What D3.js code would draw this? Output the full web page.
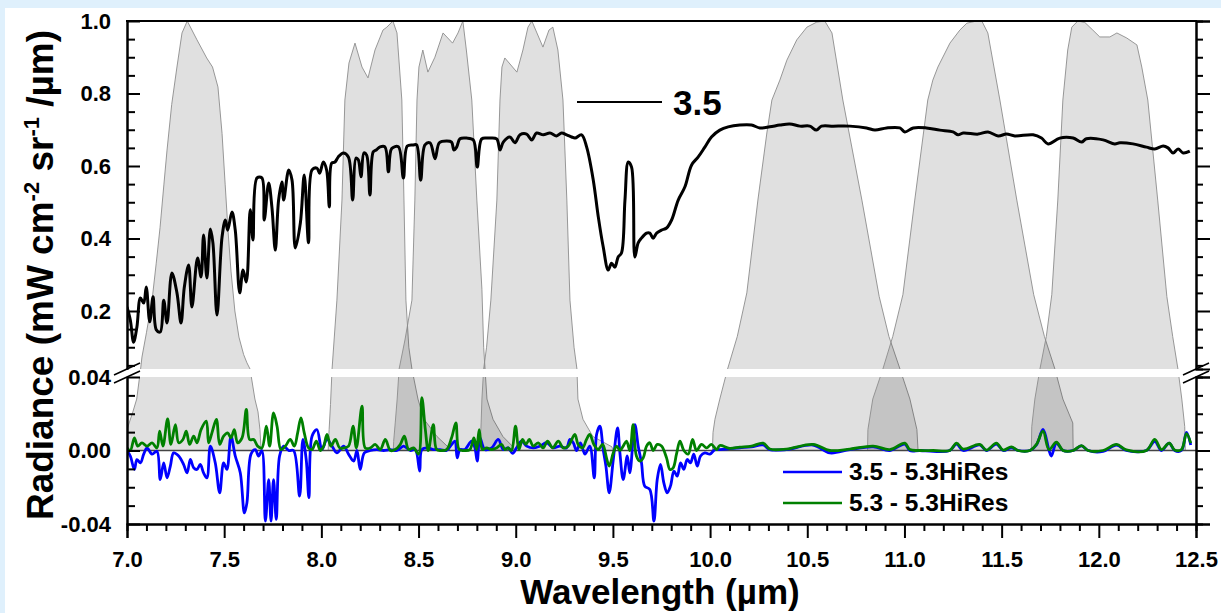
<!DOCTYPE html>
<html>
<head>
<meta charset="utf-8">
<script src="https://cdn.jsdelivr.net/npm/d3@7"></script>
<style>
  html, body { margin: 0; padding: 0; background: #dff0fc; }
  svg { display: block; font-family: "Liberation Sans", Arial, sans-serif; font-weight: bold; }
</style>
</head>
<body>
<svg id="chart" width="1221" height="613"></svg>
<script>
// ---- data ----
// black radiance spectrum "3.5" [wavelength um, radiance]
const spectrum35 = [
  [7.000,0.211],[7.017,0.175],[7.034,0.114],[7.051,0.156],[7.069,0.236],[7.086,0.222],[7.099,0.266],[7.117,0.170],
  [7.134,0.239],[7.151,0.148],[7.171,0.142],[7.189,0.230],[7.206,0.167],[7.231,0.305],[7.257,0.250],[7.278,0.167],
  [7.295,0.266],[7.317,0.327],[7.334,0.211],[7.363,0.346],[7.381,0.294],[7.394,0.410],[7.411,0.291],[7.429,0.426],
  [7.442,0.388],[7.463,0.189],[7.489,0.404],[7.506,0.451],[7.518,0.423],[7.540,0.473],[7.557,0.423],[7.580,0.250],
  [7.597,0.313],[7.614,0.280],[7.634,0.479],[7.648,0.396],[7.669,0.567],[7.694,0.567],[7.706,0.451],[7.729,0.553],
  [7.746,0.484],[7.763,0.368],[7.780,0.506],[7.797,0.556],[7.806,0.506],[7.832,0.589],[7.849,0.561],[7.866,0.374],
  [7.892,0.443],[7.912,0.575],[7.934,0.388],[7.952,0.589],[7.977,0.594],[7.991,0.580],[8.010,0.611],[8.027,0.589],
  [8.041,0.487],[8.053,0.608],[8.070,0.611],[8.087,0.625],[8.113,0.636],[8.139,0.625],[8.161,0.506],[8.178,0.622],
  [8.190,0.617],[8.204,0.570],[8.219,0.636],[8.233,0.630],[8.250,0.520],[8.267,0.639],[8.284,0.645],[8.302,0.653],
  [8.327,0.653],[8.345,0.584],[8.362,0.648],[8.396,0.653],[8.422,0.567],[8.442,0.655],[8.473,0.658],[8.490,0.658],
  [8.511,0.561],[8.533,0.658],[8.559,0.664],[8.585,0.620],[8.607,0.664],[8.645,0.669],[8.670,0.666],[8.682,0.644],
  [8.696,0.652],[8.713,0.675],[8.747,0.677],[8.782,0.672],[8.802,0.597],[8.825,0.675],[8.859,0.677],[8.902,0.675],
  [8.919,0.644],[8.936,0.666],[8.970,0.680],[8.996,0.664],[9.022,0.686],[9.056,0.688],[9.082,0.672],[9.107,0.691],
  [9.142,0.686],[9.176,0.691],[9.210,0.683],[9.236,0.691],[9.262,0.686],[9.288,0.680],[9.305,0.677],[9.339,0.686],
  [9.365,0.652],[9.399,0.561],[9.425,0.459],[9.450,0.377],[9.476,0.313],[9.493,0.332],[9.510,0.321],[9.527,0.349],
  [9.544,0.360],[9.562,0.506],[9.579,0.611],[9.596,0.597],[9.613,0.349],[9.630,0.388],[9.647,0.401],[9.673,0.415],
  [9.690,0.415],[9.707,0.401],[9.725,0.415],[9.750,0.423],[9.776,0.429],[9.802,0.451],[9.836,0.506],[9.870,0.542],
  [9.905,0.603],[9.939,0.625],[9.973,0.652],[10.007,0.680],[10.050,0.699],[10.093,0.708],[10.153,0.713],[10.213,0.713],
  [10.256,0.705],[10.307,0.708],[10.359,0.713],[10.410,0.716],[10.462,0.710],[10.513,0.710],[10.547,0.699],[10.573,0.710],
  [10.633,0.710],[10.719,0.710],[10.805,0.705],[10.848,0.699],[10.908,0.705],[10.976,0.705],[11.002,0.694],[11.045,0.705],
  [11.113,0.705],[11.182,0.699],[11.250,0.694],[11.276,0.686],[11.302,0.691],[11.379,0.688],[11.430,0.694],[11.482,0.683],
  [11.525,0.688],[11.568,0.683],[11.662,0.686],[11.705,0.677],[11.739,0.661],[11.799,0.677],[11.868,0.677],[11.911,0.666],
  [11.936,0.675],[12.022,0.672],[12.082,0.661],[12.108,0.664],[12.176,0.661],[12.245,0.652],[12.288,0.647],[12.331,0.655],
  [12.356,0.650],[12.382,0.636],[12.408,0.647],[12.434,0.636],[12.468,0.641]
];

// difference "3.5 - 5.3HiRes" (blue)
const diff35 = [
  [7.000,0.000],[7.017,-0.003],[7.038,-0.0103],[7.051,-0.005],[7.069,-0.0067],[7.086,-0.002],[7.103,0.0014],[7.129,-0.002],
  [7.154,-0.0004],[7.171,-0.0158],[7.189,-0.0067],[7.206,-0.0149],[7.223,-0.0085],[7.240,-0.0013],[7.266,-0.003],[7.291,-0.0076],
  [7.309,-0.0122],[7.326,-0.0049],[7.343,-0.0094],[7.360,-0.0103],[7.377,-0.0076],[7.394,-0.0122],[7.411,-0.0149],[7.429,0.0024],
  [7.454,-0.0067],[7.477,-0.023],[7.497,-0.0067],[7.514,-0.0103],[7.535,0.0078],[7.557,-0.003],[7.583,-0.0122],[7.604,-0.034],
  [7.617,-0.0285],[7.638,-0.002],[7.660,0.0005],[7.677,-0.003],[7.694,0.000],[7.712,-0.0384],[7.729,-0.0158],[7.741,-0.0384],
  [7.754,-0.0158],[7.768,-0.0375],[7.785,-0.003],[7.806,0.0024],[7.832,0.000],[7.857,0.000],[7.888,-0.0248],[7.905,0.006],
  [7.922,-0.0049],[7.936,-0.0257],[7.952,0.0078],[7.977,0.0114],[8.003,0.0005],[8.029,0.006],[8.055,0.0024],[8.080,-0.0013],
  [8.115,0.0024],[8.140,-0.002],[8.166,-0.0058],[8.183,0.000],[8.200,-0.0103],[8.221,-0.0013],[8.252,0.000],[8.286,0.0005],
  [8.320,0.000],[8.355,0.0005],[8.389,0.000],[8.423,0.0024],[8.457,0.000],[8.483,0.0005],[8.506,-0.0112],[8.517,0.0005],
  [8.550,0.0014],[8.576,0.0005],[8.610,0.0005],[8.644,0.000],[8.670,0.0033],[8.687,0.0051],[8.699,-0.004],[8.713,0.0005],
  [8.738,0.0005],[8.773,0.0051],[8.790,0.0014],[8.802,-0.0058],[8.816,0.0069],[8.841,0.0005],[8.876,0.0014],[8.910,0.006],
  [8.936,0.0005],[8.961,0.0014],[8.984,-0.0016],[9.004,0.0014],[9.030,0.0051],[9.056,0.0024],[9.090,0.0014],[9.124,0.0024],
  [9.159,0.0042],[9.193,0.0014],[9.227,0.0024],[9.261,0.0014],[9.279,0.006],[9.296,0.0042],[9.313,0.000],[9.333,0.0042],
  [9.356,-0.002],[9.381,0.0024],[9.404,-0.0149],[9.416,0.0087],[9.433,0.0132],[9.450,0.0005],[9.464,-0.0085],[9.481,-0.023],
  [9.502,-0.0049],[9.524,0.0123],[9.536,-0.0013],[9.553,-0.0158],[9.574,-0.003],[9.587,-0.0122],[9.613,0.0141],[9.630,0.0024],
  [9.647,-0.0067],[9.664,-0.0194],[9.690,-0.0212],[9.711,-0.0384],[9.728,-0.0158],[9.745,-0.0076],[9.762,-0.0176],[9.779,-0.023],
  [9.796,-0.0194],[9.814,-0.0112],[9.831,-0.014],[9.848,-0.0067],[9.865,-0.0103],[9.882,-0.0049],[9.899,-0.0067],[9.916,-0.002],
  [9.934,-0.0085],[9.951,-0.003],[9.973,-0.0013],[9.999,-0.002],[10.025,0.0005],[10.050,0.0005],[10.100,0.001],[10.153,0.0015],
  [10.213,0.002],[10.273,0.003],[10.307,0.0005],[10.393,0.0005],[10.530,0.003],[10.616,-0.0013],[10.719,0.0005],[10.839,0.002],
  [10.925,0.000],[11.002,0.0035],[11.027,0.000],[11.079,0.000],[11.148,-0.0005],[11.233,0.000],[11.268,0.0035],[11.302,0.000],
  [11.387,0.003],[11.422,0.000],[11.473,0.0035],[11.508,0.000],[11.550,0.0015],[11.585,0.000],[11.645,0.000],[11.679,0.003],
  [11.713,0.0115],[11.744,0.000],[11.756,-0.003],[11.782,0.004],[11.816,0.000],[11.868,0.000],[11.911,0.0025],[11.945,0.000],
  [12.022,-0.0005],[12.091,0.003],[12.142,0.000],[12.245,0.000],[12.288,0.005],[12.322,0.000],[12.362,0.004],[12.390,0.000],
  [12.425,0.000],[12.451,0.0098],[12.473,0.003]
];

// difference "5.3 - 5.3HiRes" (green)
const diff53 = [
  [7.000,0.0014],[7.017,0.000],[7.038,0.0069],[7.055,0.0024],[7.077,0.0042],[7.103,0.0024],[7.129,0.0042],[7.154,0.0014],
  [7.168,0.0105],[7.185,0.0024],[7.209,0.0172],[7.226,0.0033],[7.249,0.0141],[7.266,0.0042],[7.288,0.006],[7.305,0.0105],
  [7.322,0.0033],[7.343,0.0078],[7.360,0.0042],[7.381,0.0114],[7.408,0.016],[7.420,0.0042],[7.437,0.0096],[7.460,0.0169],
  [7.477,0.0033],[7.497,0.0078],[7.518,0.0096],[7.535,0.0069],[7.552,0.0114],[7.569,0.0042],[7.592,0.0069],[7.614,0.0223],
  [7.631,0.006],[7.652,0.006],[7.672,0.0024],[7.694,0.0014],[7.717,0.0132],[7.734,0.0024],[7.754,0.0205],[7.772,0.0132],
  [7.792,0.0005],[7.815,0.0024],[7.840,0.006],[7.861,0.0024],[7.878,0.0096],[7.895,0.0178],[7.912,0.0096],[7.934,0.0014],
  [7.952,0.0005],[7.974,0.0051],[7.995,0.000],[8.012,0.0024],[8.029,0.0087],[8.049,0.0024],[8.072,0.006],[8.094,0.0014],
  [8.115,0.0014],[8.140,0.0024],[8.163,0.0132],[8.180,0.0014],[8.209,0.0241],[8.226,0.0014],[8.252,0.0014],[8.277,0.0033],
  [8.303,0.0005],[8.329,0.006],[8.355,0.000],[8.380,0.0005],[8.406,0.0033],[8.427,0.0078],[8.449,0.0005],[8.475,0.0014],
  [8.500,-0.002],[8.517,0.0287],[8.535,0.0114],[8.550,0.000],[8.576,0.0141],[8.593,0.0005],[8.618,0.000],[8.644,0.0005],
  [8.670,0.0069],[8.692,0.015],[8.709,0.0005],[8.738,0.000],[8.764,0.0005],[8.785,0.0069],[8.799,0.0005],[8.812,0.0114],
  [8.829,0.0005],[8.850,0.0014],[8.876,0.0005],[8.901,0.0014],[8.927,0.0033],[8.944,0.0005],[8.961,0.0014],[8.978,0.000],
  [8.999,0.0132],[9.016,0.0005],[9.035,0.006],[9.052,0.0033],[9.070,0.006],[9.090,0.0024],[9.116,0.0042],[9.141,0.0014],
  [9.164,0.0051],[9.190,0.0014],[9.219,0.0051],[9.244,0.0014],[9.270,0.0024],[9.304,0.0087],[9.321,0.0033],[9.344,0.0014],
  [9.364,0.006],[9.381,0.0087],[9.402,0.0033],[9.424,0.0005],[9.447,0.0033],[9.467,-0.004],[9.481,-0.0085],[9.502,-0.0013],
  [9.519,0.0024],[9.536,0.000],[9.553,0.0024],[9.570,0.0051],[9.587,0.000],[9.604,0.0141],[9.621,-0.003],[9.639,-0.0058],
  [9.656,-0.004],[9.673,0.0024],[9.690,0.0042],[9.707,0.000],[9.728,0.0033],[9.750,0.0024],[9.776,-0.004],[9.793,-0.0103],
  [9.810,-0.0094],[9.827,-0.002],[9.845,0.0051],[9.865,0.000],[9.887,-0.002],[9.910,0.006],[9.930,0.000],[9.956,0.0033],
  [9.982,0.0014],[10.007,0.0033],[10.033,0.0005],[10.050,0.0027],[10.100,0.0012],[10.153,0.0018],[10.213,0.0024],[10.273,0.004],
  [10.307,0.0008],[10.393,0.0008],[10.530,0.0033],[10.616,0.000],[10.719,0.0008],[10.839,0.0024],[10.925,0.0005],[11.002,0.004],
  [11.027,0.0005],[11.079,0.000],[11.148,0.000],[11.233,0.000],[11.268,0.004],[11.302,0.0008],[11.387,0.0033],[11.422,0.0002],
  [11.473,0.004],[11.508,0.0002],[11.550,0.002],[11.585,0.000],[11.645,0.000],[11.679,0.0033],[11.713,0.0105],[11.744,0.0005],
  [11.782,0.0045],[11.816,0.000],[11.868,0.000],[11.911,0.0027],[11.945,0.000],[12.022,0.000],[12.091,0.0033],[12.142,0.0003],
  [12.245,0.000],[12.288,0.006],[12.322,0.0005],[12.362,0.004],[12.390,0.0003],[12.425,0.0005],[12.451,0.0092],[12.473,0.004]
];

// normalised filter response functions (grey), [wavelength um, response 0..1]
const filter1 = [[6.95,0],[6.95,0.006],[7.0,0.0114],[7.03,0.021],[7.05,0.028],[7.07,0.04],[7.077,0.073],[7.10,0.14],[7.129,0.23],
  [7.15,0.33],[7.17,0.43],[7.19,0.55],[7.206,0.644],[7.23,0.77],[7.257,0.873],[7.283,0.967],[7.31,1.0],[7.36,0.948],[7.41,0.898],
  [7.44,0.873],[7.468,0.818],[7.489,0.69],[7.505,0.55],[7.52,0.42],[7.535,0.31],[7.555,0.2],[7.576,0.128],[7.60,0.08],[7.617,0.057],
  [7.633,0.04],[7.658,0.028],[7.674,0.021],[7.684,0.0114],[7.69,0]];
const filter2 = [[8.035,0],[8.037,0.006],[8.04,0.0114],[8.047,0.025],[8.055,0.04],[8.08,0.23],[8.106,0.506],[8.121,0.782],
  [8.142,0.884],[8.173,0.939],[8.209,0.873],[8.24,0.843],[8.276,0.92],[8.317,0.975],[8.337,0.983],[8.368,1.0],[8.389,0.967],
  [8.414,0.782],[8.425,0.506],[8.435,0.23],[8.45,0.10],[8.466,0.04],[8.497,0.028],[8.528,0.017],[8.595,0.0076],[8.651,0.002],[8.66,0]];
const filter3 = [[8.37,0],[8.372,0.005],[8.38,0.015],[8.39,0.028],[8.40,0.04],[8.43,0.12],[8.466,0.23],[8.481,0.506],[8.492,0.782],
  [8.502,0.873],[8.522,0.92],[8.548,0.859],[8.584,0.9],[8.626,0.967],[8.675,0.939],[8.703,0.967],[8.728,1.0],[8.746,0.92],
  [8.774,0.782],[8.8,0.506],[8.826,0.26],[8.835,0.1],[8.842,0.04],[8.852,0.028],[8.883,0.017],[8.934,0.0076],[8.986,0.002],[8.995,0]];
const filter4 = [[8.816,0],[8.818,0.005],[8.822,0.015],[8.826,0.028],[8.835,0.04],[8.85,0.1],[8.872,0.23],[8.903,0.506],[8.919,0.782],
  [8.929,0.873],[8.944,0.898],[9.006,0.859],[9.037,0.92],[9.063,0.983],[9.083,1.0],[9.109,0.967],[9.14,0.928],[9.171,0.975],
  [9.191,0.983],[9.217,0.92],[9.243,0.782],[9.263,0.506],[9.279,0.23],[9.30,0.1],[9.315,0.04],[9.32,0.028],[9.346,0.017],
  [9.397,0.0076],[9.495,0.002],[9.50,0]];
const filter5 = [[10.012,0],[10.015,0.0098],[10.025,0.017],[10.05,0.028],[10.09,0.04],[10.14,0.13],[10.189,0.25],[10.246,0.506],
  [10.292,0.691],[10.318,0.782],[10.359,0.837],[10.395,0.892],[10.446,0.948],[10.498,0.983],[10.549,0.997],[10.59,1.0],[10.627,0.967],
  [10.683,0.782],[10.781,0.506],[10.87,0.24],[10.92,0.13],[10.977,0.04],[11.028,0.028],[11.064,0.0114],[11.07,0]];
const filter6 = [[10.81,0],[10.812,0.0114],[10.837,0.028],[10.889,0.04],[10.94,0.13],[10.992,0.245],[11.053,0.506],[11.12,0.782],
  [11.146,0.837],[11.172,0.873],[11.234,0.939],[11.285,0.975],[11.321,0.994],[11.372,1.0],[11.398,1.0],[11.429,0.967],[11.491,0.782],
  [11.578,0.506],[11.665,0.245],[11.72,0.13],[11.774,0.04],[11.815,0.028],[11.866,0.015],[11.868,0]];
const filter7 = [[11.653,0],[11.655,0.013],[11.671,0.028],[11.697,0.04],[11.73,0.13],[11.758,0.245],[11.789,0.506],[11.815,0.782],
  [11.84,0.92],[11.861,0.983],[11.892,1.0],[11.928,0.996],[11.969,0.975],[12.005,0.956],[12.057,0.956],[12.093,0.967],[12.144,0.953],
  [12.196,0.934],[12.221,0.873],[12.252,0.782],[12.303,0.506],[12.35,0.24],[12.38,0.13],[12.407,0.04],[12.427,0.028],[12.442,0.013],[12.445,0]];
const filters = [filter1, filter2, filter3, filter4, filter5, filter6, filter7];

// ticks
const xMajorTicks = [7.0, 7.5, 8.0, 8.5, 9.0, 9.5, 10.0, 10.5, 11.0, 11.5, 12.0, 12.5];
const topMajorTicks = [0.2, 0.4, 0.6, 0.8, 1.0];
const bottomMajorTicks = [-0.04, 0.00, 0.04];
const legendLabels = ['3.5 - 5.3HiRes', '5.3 - 5.3HiRes'];

// ---- layout ----
const svg = d3.select('#chart');
const plotLeft = 127, plotRight = 1196, plotTop = 21, plotBottom = 524;
const breakTop = 369, breakBottom = 377;

svg.append('rect').attr('x', 5).attr('y', 8).attr('width', 1216).attr('height', 605).attr('fill', '#fff');

const x = d3.scaleLinear().domain([7.0, 12.5]).range([plotLeft, plotRight]);
const yTop = d3.scaleLinear().domain([0.04, 1.0]).range([breakTop, plotTop]);
const yBot = d3.scaleLinear().domain([-0.04, 0.04]).range([plotBottom, breakBottom]);
const yFilter = r => r >= 0.04 ? yTop(r) : yBot(r);   // filter curves span both panels

svg.append('clipPath').attr('id', 'plotClip')
  .append('rect').attr('x', plotLeft).attr('y', plotTop).attr('width', plotRight - plotLeft).attr('height', plotBottom - plotTop);

const plot = svg.append('g').attr('clip-path', 'url(#plotClip)');

// filter response areas
const filterArea = d3.area().x(d => x(d[0])).y0(yBot(0)).y1(d => yFilter(d[1]));
const filterLine = d3.line().x(d => x(d[0])).y(d => yFilter(d[1]));
filters.forEach(f => {
  plot.append('path').attr('d', filterArea(f)).attr('fill', '#000').attr('fill-opacity', 0.12);
  plot.append('path').attr('d', filterLine(f)).attr('fill', 'none').attr('stroke', '#8c8c8c').attr('stroke-width', 0.9);
});

// zero line
plot.append('line').attr('x1', plotLeft).attr('x2', plotRight).attr('y1', yBot(0)).attr('y2', yBot(0))
  .attr('stroke', '#444').attr('stroke-width', 1.5);

// break band
svg.append('rect').attr('x', plotLeft - 1).attr('y', breakTop).attr('width', plotRight - plotLeft + 2).attr('height', breakBottom - breakTop)
  .attr('fill', '#fff');

// spectra
const smooth = d3.curveCatmullRom.alpha(0.5);
const topLine = d3.line().x(d => x(d[0])).y(d => yTop(d[1])).curve(smooth);
const botLine = d3.line().x(d => x(d[0])).y(d => yBot(d[1])).curve(smooth);
plot.append('path').attr('d', topLine(spectrum35)).attr('fill', 'none').attr('stroke', '#000')
  .attr('stroke-width', 3).attr('stroke-linejoin', 'round');
plot.append('path').attr('d', botLine(diff35)).attr('fill', 'none').attr('stroke', '#0000ff')
  .attr('stroke-width', 2.8).attr('stroke-linejoin', 'round');
plot.append('path').attr('d', botLine(diff53)).attr('fill', 'none').attr('stroke', '#008000')
  .attr('stroke-width', 2.8).attr('stroke-linejoin', 'round');

// ---- axes ----
function styleAxis(g, fontSize) {
  g.attr('font-family', null).attr('font-size', fontSize);
  g.selectAll('.domain').attr('stroke-width', 2);
  g.selectAll('.tick line').attr('stroke-width', 2);
  g.selectAll('.tick text').attr('fill', '#000');
}
const topMinor = d3.range(0.05, 1.0001, 0.05).filter(v => Math.abs(v * 5 - Math.round(v * 5)) > 1e-6);
const botMinor = d3.range(-0.04, 0.0401, 0.01).filter(v => Math.abs(v * 25 - Math.round(v * 25)) > 1e-6);
const xMinor = d3.range(7.0, 12.5001, 0.1).filter(v => Math.abs(v * 2 - Math.round(v * 2)) > 1e-6);

// left (ticks inside)
svg.append('g').attr('transform', `translate(${plotLeft},0)`)
  .call(d3.axisLeft(yTop).tickValues(topMajorTicks).tickSizeInner(-13).tickSizeOuter(0).tickPadding(16).tickFormat(d => d.toFixed(1)))
  .call(g => styleAxis(g, 22));
svg.append('g').attr('transform', `translate(${plotLeft},0)`)
  .call(d3.axisLeft(yTop).tickValues(topMinor).tickSizeInner(-8).tickSizeOuter(0).tickFormat(''))
  .call(g => styleAxis(g, 22));
svg.append('g').attr('transform', `translate(${plotLeft},0)`)
  .call(d3.axisLeft(yBot).tickValues(bottomMajorTicks).tickSizeInner(-13).tickSizeOuter(0).tickPadding(16).tickFormat(d => d.toFixed(2)))
  .call(g => styleAxis(g, 22));
svg.append('g').attr('transform', `translate(${plotLeft},0)`)
  .call(d3.axisLeft(yBot).tickValues(botMinor).tickSizeInner(-8).tickSizeOuter(0).tickFormat(''))
  .call(g => styleAxis(g, 22));

// right (ticks outside, no labels)
[[yTop, topMajorTicks, topMinor], [yBot, bottomMajorTicks, botMinor]].forEach(([s, maj, mn]) => {
  svg.append('g').attr('transform', `translate(${plotRight},0)`)
    .call(d3.axisRight(s).tickValues(maj).tickSize(14).tickFormat('')).call(g => styleAxis(g, 22));
  svg.append('g').attr('transform', `translate(${plotRight},0)`)
    .call(d3.axisRight(s).tickValues(mn).tickSize(7).tickFormat('')).call(g => styleAxis(g, 22));
});

// bottom
svg.append('g').attr('transform', `translate(0,${plotBottom})`)
  .call(d3.axisBottom(x).tickValues(xMajorTicks).tickSize(14).tickPadding(13).tickFormat(d => d.toFixed(1)))
  .call(g => styleAxis(g, 22));
svg.append('g').attr('transform', `translate(0,${plotBottom})`)
  .call(d3.axisBottom(x).tickValues(xMinor).tickSize(7).tickFormat(''))
  .call(g => styleAxis(g, 22));

// top border
svg.append('line').attr('x1', plotLeft - 1).attr('x2', plotRight + 1).attr('y1', plotTop).attr('y2', plotTop)
  .attr('stroke', '#000').attr('stroke-width', 2);

// axis break marks
[plotLeft, plotRight].forEach(ax => {
  [breakTop, breakBottom].forEach(by => {
    svg.append('line').attr('x1', ax - 13).attr('y1', by + 6).attr('x2', ax + 13).attr('y2', by - 6)
      .attr('stroke', '#000').attr('stroke-width', 1.6);
  });
});

// ---- titles ----
const yTitle = svg.append('text').attr('transform', 'translate(53,275) rotate(-90)')
  .attr('text-anchor', 'middle').attr('font-size', 37).attr('fill', '#000');
yTitle.append('tspan').text('Radiance (mW cm');
yTitle.append('tspan').attr('font-size', 22).attr('dy', -14).text('-2');
yTitle.append('tspan').attr('dy', 14).text(' sr');
yTitle.append('tspan').attr('font-size', 22).attr('dy', -14).text('-1');
yTitle.append('tspan').attr('dy', 14).text(' /\u00b5m)');

svg.append('text').attr('x', 660).attr('y', 604).attr('text-anchor', 'middle')
  .attr('font-size', 35).attr('fill', '#000').text('Wavelength (\u00b5m)');

// ---- legends ----
svg.append('line').attr('x1', 577).attr('x2', 662).attr('y1', 102).attr('y2', 102).attr('stroke', '#000').attr('stroke-width', 2);
svg.append('text').attr('x', 673).attr('y', 115).attr('font-size', 35).attr('fill', '#000').text('3.5');

const legendColors = ['#0000ff', '#008000'];
legendLabels.forEach((lab, i) => {
  const ly = 472 + i * 31;
  svg.append('line').attr('x1', 783).attr('x2', 842).attr('y1', ly).attr('y2', ly)
    .attr('stroke', legendColors[i]).attr('stroke-width', 2.5);
  svg.append('text').attr('x', 849).attr('y', ly + 8).attr('font-size', 24.5).attr('fill', '#000').text(lab);
});
</script>
</body>
</html>
